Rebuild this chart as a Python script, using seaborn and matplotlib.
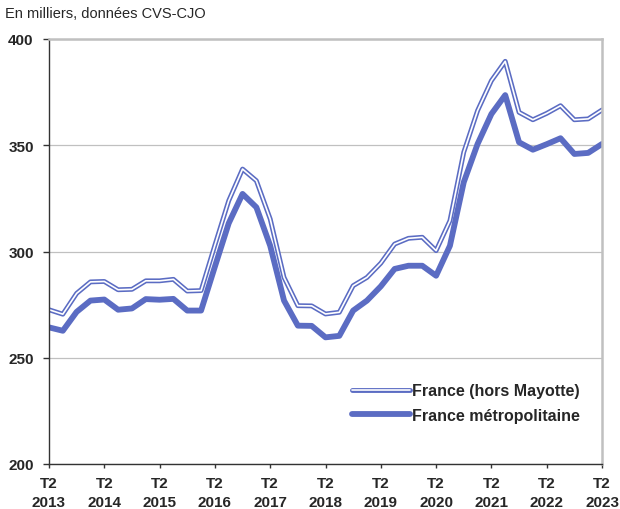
import numpy as np
import pandas as pd
import matplotlib
matplotlib.use("Agg")
import matplotlib.pyplot as plt
import seaborn as sns
from matplotlib.lines import Line2D
from matplotlib.legend_handler import HandlerTuple


# DATA (quarterly, T2 2013 -> T2 2023)
years = [str(y) for y in range(2013, 2024)]

france_hors_mayotte = [
    272.6, 270.5, 280.3, 285.7, 285.9, 282.0, 282.2, 286.2, 286.2, 286.9,
    281.4, 281.6, 303.0, 323.9, 338.8, 333.3, 315.3, 287.8, 274.5, 274.4,
    270.6, 271.4, 283.9, 287.8, 294.5, 303.5, 306.2, 306.7, 300.4, 314.5,
    346.7, 366.3, 380.4, 389.5, 365.5, 362.0, 365.0, 368.6, 362.0, 362.4,
    366.6,
]

france_metro = [
    264.3, 262.7, 271.6, 276.9, 277.4, 272.6, 273.2, 277.6, 277.3, 277.7,
    272.2, 272.2, 292.9, 313.3, 327.1, 320.8, 302.7, 276.9, 265.1, 265.0,
    259.6, 260.3, 272.2, 276.9, 283.6, 291.8, 293.3, 293.3, 288.6, 302.7,
    332.6, 350.6, 364.7, 373.6, 351.4, 347.9, 350.5, 353.3, 345.9, 346.4,
    350.6,
]

y_ticks = [200, 250, 300, 350, 400]

df = pd.DataFrame({
    "t": np.arange(len(france_metro)),
    "hors_mayotte": france_hors_mayotte,
    "metro": france_metro,
})


# STYLE
sns.set_style("white")
plt.rcParams["font.family"] = ["Liberation Sans", "DejaVu Sans"]

blue = "#5b6cc3"

fig = plt.figure(figsize=(6.2, 5.1), dpi=100)
ax = fig.add_axes([49 / 620, 1 - 465 / 510, 553 / 620, 425 / 510])

# double line: blue outer, white inner
sns.lineplot(data=df, x="t", y="hors_mayotte", ax=ax, color=blue, lw=3.5)
sns.lineplot(data=df, x="t", y="hors_mayotte", ax=ax, color="white", lw=1.2)
sns.lineplot(data=df, x="t", y="metro", ax=ax, color=blue, lw=4.2)

ax.set_xlim(0, len(france_metro) - 1)
ax.set_ylim(200, 400)
ax.set_yticks(y_ticks)
ax.set_yticklabels([str(v) for v in y_ticks], fontweight="bold", fontsize=11)
ax.set_xticks(np.arange(0, len(france_metro), 4))
ax.set_xticklabels(["T2\n" + y for y in years], fontweight="bold",
                   fontsize=11, linespacing=1.4)
ax.set_xlabel("")
ax.set_ylabel("")

ax.yaxis.grid(True, color="#c0c0c0", lw=0.9)
ax.set_axisbelow(True)
ax.tick_params(axis="y", direction="out", length=4, width=1, pad=7,
               left=True, color="#333333")
ax.tick_params(axis="x", direction="out", length=3, width=1, pad=6,
               bottom=True, color="#333333")

for side in ["left", "bottom"]:
    ax.spines[side].set_color("#333333")
    ax.spines[side].set_linewidth(1.0)
for side in ["top", "right"]:
    ax.spines[side].set_color("#c0c0c0")
    ax.spines[side].set_linewidth(1.8)


# LEGEND
h1 = (Line2D([], [], color=blue, lw=3.5), Line2D([], [], color="white", lw=1.2))
h2 = Line2D([], [], color=blue, lw=4.2)
leg = ax.legend(
    [h1, h2],
    ["France (hors Mayotte)", "France métropolitaine"],
    handler_map={tuple: HandlerTuple(ndivide=1)},
    loc="upper left",
    bbox_to_anchor=(0.548, 0.19),
    frameon=False,
    borderaxespad=0,
    borderpad=0,
    handlelength=3.6,
    handletextpad=0.15,
    labelspacing=0.6,
    prop={"weight": "bold", "size": 11.5},
)

fig.text(0.008, 0.972, "En milliers, données CVS-CJO", fontsize=10.5,
         ha="left", va="center")

plt.savefig("out.png", dpi=100)
